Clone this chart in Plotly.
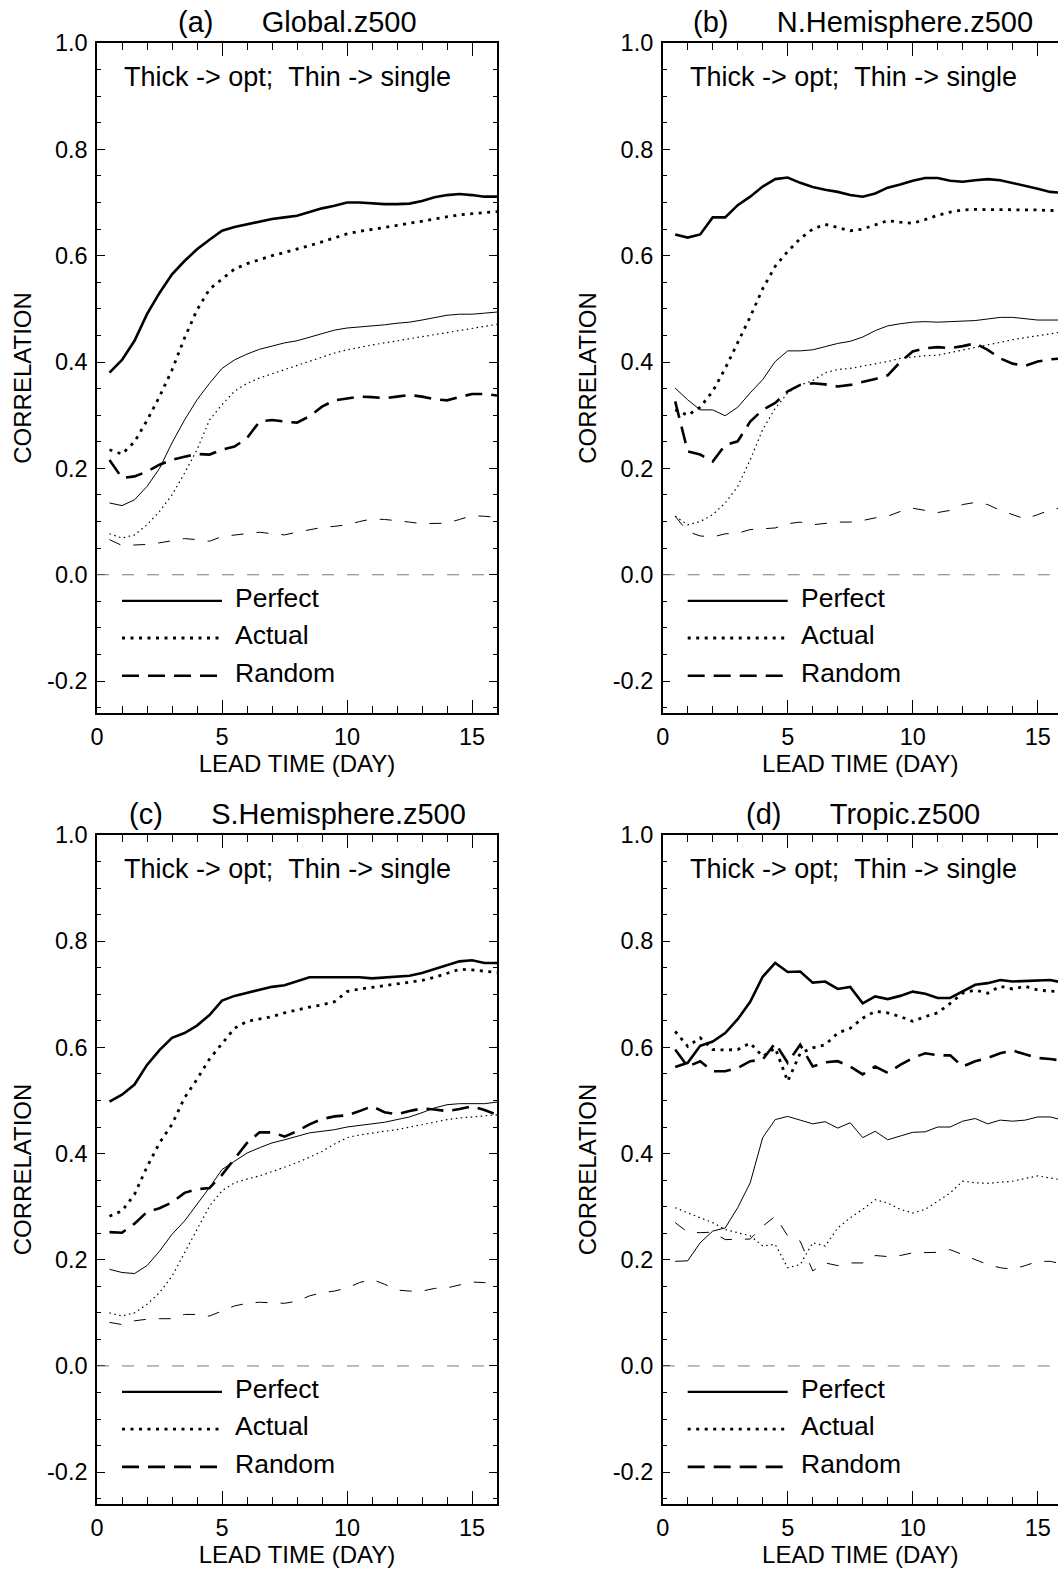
import plotly.graph_objects as go

# ---------------- data ----------------
LEAD_DAYS = [0.5, 1.0, 1.5, 2.0, 2.5, 3.0, 3.5, 4.0, 4.5, 5.0, 5.5, 6.0, 6.5, 7.0, 7.5, 8.0,
             8.5, 9.0, 9.5, 10.0, 10.5, 11.0, 11.5, 12.0, 12.5, 13.0, 13.5, 14.0, 14.5, 15.0, 15.5, 16.0]

PANEL_LETTERS = ["(a)", "(b)", "(c)", "(d)"]
PANEL_NAMES = ["Global.z500", "N.Hemisphere.z500", "S.Hemisphere.z500", "Tropic.z500"]
SERIES_NAMES = ["Perfect", "Actual", "Random"]
NOTE_TEXT = "Thick -> opt;\u00a0\u00a0Thin -> single"
X_TITLE = "LEAD TIME (DAY)"
Y_TITLE = "CORRELATION"
Y_TICK_VALUES = [-0.2, 0.0, 0.2, 0.4, 0.6, 0.8, 1.0]
Y_TICK_LABELS = ["-0.2", "0.0", "0.2", "0.4", "0.6", "0.8", "1.0"]

# (a) Global
GLOBAL_PERFECT_OPT = [0.380, 0.404, 0.440, 0.490, 0.530, 0.565, 0.590, 0.612, 0.630, 0.647, 0.654, 0.659, 0.664, 0.669, 0.672, 0.675,
                      0.682, 0.689, 0.694, 0.700, 0.700, 0.698, 0.697, 0.697, 0.698, 0.703, 0.710, 0.714, 0.716, 0.714, 0.711, 0.711]
GLOBAL_ACTUAL_OPT = [0.235, 0.227, 0.250, 0.290, 0.335, 0.385, 0.445, 0.498, 0.537, 0.556, 0.575, 0.585, 0.593, 0.600, 0.606, 0.612,
                     0.619, 0.626, 0.634, 0.641, 0.646, 0.649, 0.653, 0.657, 0.661, 0.665, 0.669, 0.673, 0.677, 0.679, 0.681, 0.683]
GLOBAL_RANDOM_OPT = [0.216, 0.182, 0.185, 0.194, 0.207, 0.216, 0.222, 0.227, 0.226, 0.235, 0.241, 0.257, 0.288, 0.291, 0.288, 0.286,
                     0.298, 0.316, 0.328, 0.332, 0.335, 0.334, 0.332, 0.335, 0.338, 0.335, 0.330, 0.328, 0.334, 0.340, 0.340, 0.337]
GLOBAL_PERFECT_SINGLE = [0.135, 0.130, 0.141, 0.166, 0.200, 0.248, 0.291, 0.329, 0.360, 0.388, 0.404, 0.415, 0.424, 0.430, 0.436, 0.440,
                         0.447, 0.454, 0.460, 0.464, 0.466, 0.467, 0.470, 0.473, 0.475, 0.479, 0.484, 0.488, 0.490, 0.490, 0.492, 0.494]
GLOBAL_ACTUAL_SINGLE = [0.077, 0.069, 0.075, 0.094, 0.119, 0.150, 0.191, 0.235, 0.291, 0.320, 0.345, 0.360, 0.370, 0.378, 0.385, 0.393,
                        0.401, 0.410, 0.417, 0.423, 0.428, 0.432, 0.436, 0.440, 0.444, 0.448, 0.452, 0.456, 0.460, 0.463, 0.467, 0.471]
GLOBAL_RANDOM_SINGLE = [0.066, 0.055, 0.056, 0.057, 0.060, 0.064, 0.068, 0.066, 0.063, 0.072, 0.075, 0.078, 0.080, 0.077, 0.075, 0.080,
                        0.085, 0.089, 0.091, 0.094, 0.100, 0.105, 0.104, 0.102, 0.099, 0.096, 0.096, 0.097, 0.104, 0.111, 0.110, 0.108]

# (b) N.Hemisphere
NH_PERFECT_OPT = [0.640, 0.634, 0.640, 0.672, 0.672, 0.695, 0.711, 0.730, 0.744, 0.747, 0.737, 0.729, 0.724, 0.720, 0.714, 0.711,
                  0.717, 0.728, 0.734, 0.741, 0.746, 0.746, 0.741, 0.739, 0.742, 0.744, 0.742, 0.737, 0.732, 0.726, 0.720, 0.718]
NH_ACTUAL_OPT = [0.310, 0.300, 0.315, 0.345, 0.388, 0.435, 0.485, 0.538, 0.580, 0.608, 0.632, 0.650, 0.659, 0.653, 0.647, 0.650,
                 0.658, 0.666, 0.663, 0.661, 0.668, 0.676, 0.682, 0.686, 0.687, 0.687, 0.687, 0.687, 0.686, 0.686, 0.685, 0.685]
NH_RANDOM_OPT = [0.326, 0.232, 0.226, 0.213, 0.244, 0.251, 0.288, 0.310, 0.323, 0.345, 0.357, 0.360, 0.358, 0.354, 0.357, 0.362,
                 0.368, 0.375, 0.400, 0.420, 0.426, 0.428, 0.426, 0.430, 0.435, 0.423, 0.407, 0.397, 0.393, 0.401, 0.405, 0.407]
NH_PERFECT_SINGLE = [0.351, 0.329, 0.310, 0.310, 0.299, 0.315, 0.342, 0.367, 0.401, 0.421, 0.421, 0.423, 0.429, 0.435, 0.439, 0.447,
                     0.459, 0.468, 0.472, 0.475, 0.476, 0.475, 0.476, 0.477, 0.478, 0.481, 0.484, 0.484, 0.482, 0.479, 0.479, 0.479]
NH_ACTUAL_SINGLE = [0.110, 0.094, 0.100, 0.113, 0.135, 0.166, 0.216, 0.273, 0.313, 0.342, 0.357, 0.365, 0.380, 0.386, 0.388, 0.392,
                    0.397, 0.401, 0.407, 0.410, 0.412, 0.413, 0.418, 0.423, 0.428, 0.432, 0.437, 0.442, 0.446, 0.449, 0.453, 0.457]
NH_RANDOM_SINGLE = [0.110, 0.081, 0.073, 0.071, 0.077, 0.078, 0.085, 0.086, 0.088, 0.096, 0.099, 0.094, 0.097, 0.099, 0.099, 0.102,
                    0.107, 0.110, 0.119, 0.125, 0.121, 0.117, 0.121, 0.132, 0.136, 0.132, 0.121, 0.113, 0.105, 0.113, 0.122, 0.126]

# (c) S.Hemisphere
SH_PERFECT_OPT = [0.498, 0.511, 0.530, 0.567, 0.595, 0.618, 0.627, 0.641, 0.661, 0.688, 0.697, 0.703, 0.708, 0.714, 0.717, 0.724,
                  0.732, 0.732, 0.732, 0.733, 0.732, 0.730, 0.732, 0.733, 0.735, 0.740, 0.747, 0.755, 0.762, 0.764, 0.759, 0.759]
SH_ACTUAL_OPT = [0.282, 0.292, 0.323, 0.375, 0.420, 0.455, 0.505, 0.540, 0.578, 0.608, 0.636, 0.649, 0.653, 0.658, 0.665, 0.671,
                 0.676, 0.680, 0.686, 0.705, 0.710, 0.713, 0.716, 0.719, 0.723, 0.726, 0.732, 0.740, 0.747, 0.746, 0.743, 0.741]
SH_RANDOM_OPT = [0.252, 0.251, 0.268, 0.290, 0.297, 0.308, 0.326, 0.333, 0.335, 0.360, 0.390, 0.420, 0.440, 0.440, 0.432, 0.442,
                 0.455, 0.465, 0.470, 0.472, 0.480, 0.489, 0.478, 0.474, 0.480, 0.485, 0.483, 0.480, 0.484, 0.489, 0.482, 0.473]
SH_PERFECT_SINGLE = [0.182, 0.176, 0.174, 0.189, 0.216, 0.248, 0.273, 0.304, 0.336, 0.370, 0.386, 0.401, 0.411, 0.420, 0.426, 0.433,
                     0.439, 0.442, 0.445, 0.450, 0.453, 0.455, 0.459, 0.464, 0.469, 0.477, 0.486, 0.492, 0.494, 0.494, 0.494, 0.497]
SH_ACTUAL_SINGLE = [0.100, 0.094, 0.100, 0.116, 0.138, 0.169, 0.213, 0.257, 0.301, 0.330, 0.345, 0.352, 0.358, 0.366, 0.374, 0.383,
                    0.393, 0.404, 0.418, 0.430, 0.435, 0.439, 0.442, 0.445, 0.450, 0.455, 0.460, 0.464, 0.467, 0.469, 0.471, 0.473]
SH_RANDOM_SINGLE = [0.082, 0.078, 0.085, 0.088, 0.089, 0.089, 0.097, 0.097, 0.094, 0.103, 0.113, 0.118, 0.120, 0.119, 0.118, 0.122,
                    0.132, 0.138, 0.141, 0.147, 0.157, 0.163, 0.154, 0.143, 0.141, 0.141, 0.146, 0.147, 0.152, 0.158, 0.157, 0.154]

# (d) Tropic
TR_PERFECT_OPT = [0.563, 0.571, 0.603, 0.611, 0.627, 0.653, 0.686, 0.733, 0.759, 0.742, 0.743, 0.722, 0.724, 0.710, 0.714, 0.683,
                  0.696, 0.691, 0.697, 0.705, 0.701, 0.693, 0.693, 0.705, 0.718, 0.721, 0.727, 0.724, 0.725, 0.725, 0.727, 0.722]
TR_ACTUAL_OPT = [0.630, 0.602, 0.618, 0.596, 0.595, 0.596, 0.608, 0.583, 0.599, 0.536, 0.589, 0.599, 0.605, 0.627, 0.636, 0.655,
                 0.668, 0.665, 0.658, 0.649, 0.658, 0.665, 0.683, 0.702, 0.708, 0.702, 0.715, 0.710, 0.715, 0.708, 0.706, 0.704]
TR_RANDOM_OPT = [0.596, 0.564, 0.574, 0.555, 0.555, 0.561, 0.574, 0.577, 0.608, 0.571, 0.605, 0.564, 0.572, 0.574, 0.564, 0.549,
                 0.564, 0.552, 0.567, 0.580, 0.589, 0.585, 0.585, 0.564, 0.574, 0.580, 0.589, 0.594, 0.587, 0.580, 0.578, 0.575]
TR_PERFECT_SINGLE = [0.197, 0.198, 0.232, 0.254, 0.260, 0.298, 0.345, 0.430, 0.464, 0.470, 0.463, 0.456, 0.460, 0.448, 0.458, 0.430,
                     0.442, 0.426, 0.433, 0.440, 0.441, 0.450, 0.450, 0.461, 0.466, 0.456, 0.463, 0.461, 0.463, 0.469, 0.469, 0.463]
TR_ACTUAL_SINGLE = [0.298, 0.288, 0.279, 0.270, 0.257, 0.251, 0.245, 0.226, 0.229, 0.185, 0.191, 0.232, 0.226, 0.260, 0.279, 0.295,
                    0.313, 0.307, 0.295, 0.288, 0.295, 0.310, 0.326, 0.348, 0.345, 0.344, 0.346, 0.348, 0.353, 0.358, 0.354, 0.350]
TR_RANDOM_SINGLE = [0.270, 0.252, 0.251, 0.252, 0.238, 0.238, 0.239, 0.263, 0.282, 0.245, 0.235, 0.179, 0.194, 0.189, 0.194, 0.194,
                    0.208, 0.206, 0.208, 0.213, 0.214, 0.214, 0.219, 0.210, 0.201, 0.191, 0.185, 0.182, 0.189, 0.197, 0.197, 0.192]

PANEL_DATA = [
    (GLOBAL_PERFECT_OPT, GLOBAL_ACTUAL_OPT, GLOBAL_RANDOM_OPT, GLOBAL_PERFECT_SINGLE, GLOBAL_ACTUAL_SINGLE, GLOBAL_RANDOM_SINGLE),
    (NH_PERFECT_OPT, NH_ACTUAL_OPT, NH_RANDOM_OPT, NH_PERFECT_SINGLE, NH_ACTUAL_SINGLE, NH_RANDOM_SINGLE),
    (SH_PERFECT_OPT, SH_ACTUAL_OPT, SH_RANDOM_OPT, SH_PERFECT_SINGLE, SH_ACTUAL_SINGLE, SH_RANDOM_SINGLE),
    (TR_PERFECT_OPT, TR_ACTUAL_OPT, TR_RANDOM_OPT, TR_PERFECT_SINGLE, TR_ACTUAL_SINGLE, TR_RANDOM_SINGLE),
]

# ---------------- layout / styling ----------------
W, H = 1058, 1570
FONT = "Liberation Sans, Arial, Helvetica, sans-serif"
PX_PER_DAY = 25.0
LEFT_PX = [97, 662.7]
TOP_ROW_PX = (43, 713)
BOT_ROW_PX = (835, 1504)
Y_RANGE = [-0.26, 1.0]

THICK = {"Perfect": dict(width=2.6, dash="solid"),
         "Actual": dict(width=2.8, dash="3px,5.5px"),
         "Random": dict(width=2.6, dash="17px,9px")}
THIN = {"Perfect": dict(width=1.0, dash="solid"),
        "Actual": dict(width=1.2, dash="1.5px,3.5px"),
        "Random": dict(width=1.0, dash="12px,13px")}

fig = go.Figure()
layout = dict(width=W, height=H, margin=dict(l=0, r=0, t=0, b=0, autoexpand=False),
              paper_bgcolor="white", plot_bgcolor="white", showlegend=False,
              font=dict(family=FONT, color="black"))
annotations = []
shapes = []

for i in range(4):
    col = i % 2
    row = i // 2
    left = LEFT_PX[col]
    right = min(left + 16 * PX_PER_DAY, W)
    top_px, bot_px = TOP_ROW_PX if row == 0 else BOT_ROW_PX
    xmax = (right - left) / PX_PER_DAY
    sfx = "" if i == 0 else str(i + 1)
    xname, yname = "x" + sfx, "y" + sfx

    data = PANEL_DATA[i]
    styles = [THICK["Perfect"], THICK["Actual"], THICK["Random"],
              THIN["Perfect"], THIN["Actual"], THIN["Random"]]
    names = [n + " (opt)" for n in SERIES_NAMES] + [n + " (single)" for n in SERIES_NAMES]
    for vals, st, nm in zip(data, styles, names):
        fig.add_trace(go.Scatter(x=LEAD_DAYS, y=vals, mode="lines", name=nm,
                                 line=dict(color="black", width=st["width"], dash=st["dash"]),
                                 xaxis=xname, yaxis=yname, hoverinfo="skip"))

    is_full = right - left >= 16 * PX_PER_DAY - 0.5
    layout["xaxis" + sfx] = dict(
        domain=[left / W, right / W], range=[0, xmax], anchor=yname, automargin=False,
        showline=True, linecolor="black", linewidth=1.5, mirror="ticks",
        ticks="inside", ticklen=13, tickwidth=1, tickcolor="black", dtick=5, tick0=0,
        minor=dict(dtick=1, ticks="inside", ticklen=7, tickwidth=1, tickcolor="black"),
        showgrid=False, zeroline=False, tickfont=dict(size=23.5, family=FONT),
        ticklabelstandoff=2,
        title=dict(text=X_TITLE, font=dict(size=24, family=FONT), standoff=0),
    )
    layout["yaxis" + sfx] = dict(
        domain=[1 - bot_px / H, 1 - top_px / H], range=Y_RANGE, anchor=xname, automargin=False,
        showline=True, linecolor="black", linewidth=1.5, mirror="ticks" if is_full else False,
        ticks="inside", ticklen=8, tickwidth=1, tickcolor="black",
        tickmode="array", tickvals=Y_TICK_VALUES, ticktext=Y_TICK_LABELS,
        minor=dict(dtick=0.05, tick0=0, ticks="inside", ticklen=4.5, tickwidth=1, tickcolor="black"),
        showgrid=False, zeroline=False, tickfont=dict(size=23.5, family=FONT),
        ticklabelstandoff=3,
        title=dict(text=Y_TITLE, font=dict(size=24, family=FONT), standoff=9),
    )

    # zero reference line
    shapes.append(dict(type="line", xref=xname + " domain", yref=yname, x0=0, x1=1, y0=0, y1=0,
                       line=dict(color="#7a7a7a", width=1, dash="12px,13px")))

    # panel title
    annotations.append(dict(text=PANEL_LETTERS[i] + "\u00a0" * 6 + PANEL_NAMES[i],
                            xref="paper", yref="paper",
                            x=(left + 200) / W, y=1 - (top_px - 21) / H,
                            xanchor="center", yanchor="middle", showarrow=False,
                            font=dict(size=29, family=FONT)))
    # note text
    annotations.append(dict(text=NOTE_TEXT, xref=xname, yref=yname, x=1.0, y=0.936,
                            xanchor="left", yanchor="middle", showarrow=False,
                            font=dict(size=27, family=FONT)))
    # in-plot legend (keys + labels)
    key_y = [-0.049, -0.119, -0.19]
    key_styles = [THICK["Perfect"], THICK["Actual"], THICK["Random"]]
    for ky, ks, nm in zip(key_y, key_styles, SERIES_NAMES):
        shapes.append(dict(type="line", xref=xname, yref=yname, x0=1.0, x1=5.0, y0=ky, y1=ky,
                           line=dict(color="black", width=ks["width"] if nm != "Perfect" else 2.2,
                                     dash=ks["dash"])))
        annotations.append(dict(text=nm, xref=xname, yref=yname, x=5.45, y=ky + 0.006,
                                xanchor="left", yanchor="middle", showarrow=False,
                                font=dict(size=26.5, family=FONT)))

layout["annotations"] = annotations
layout["shapes"] = shapes
fig.update_layout(**layout)
fig.write_html("out.html")
